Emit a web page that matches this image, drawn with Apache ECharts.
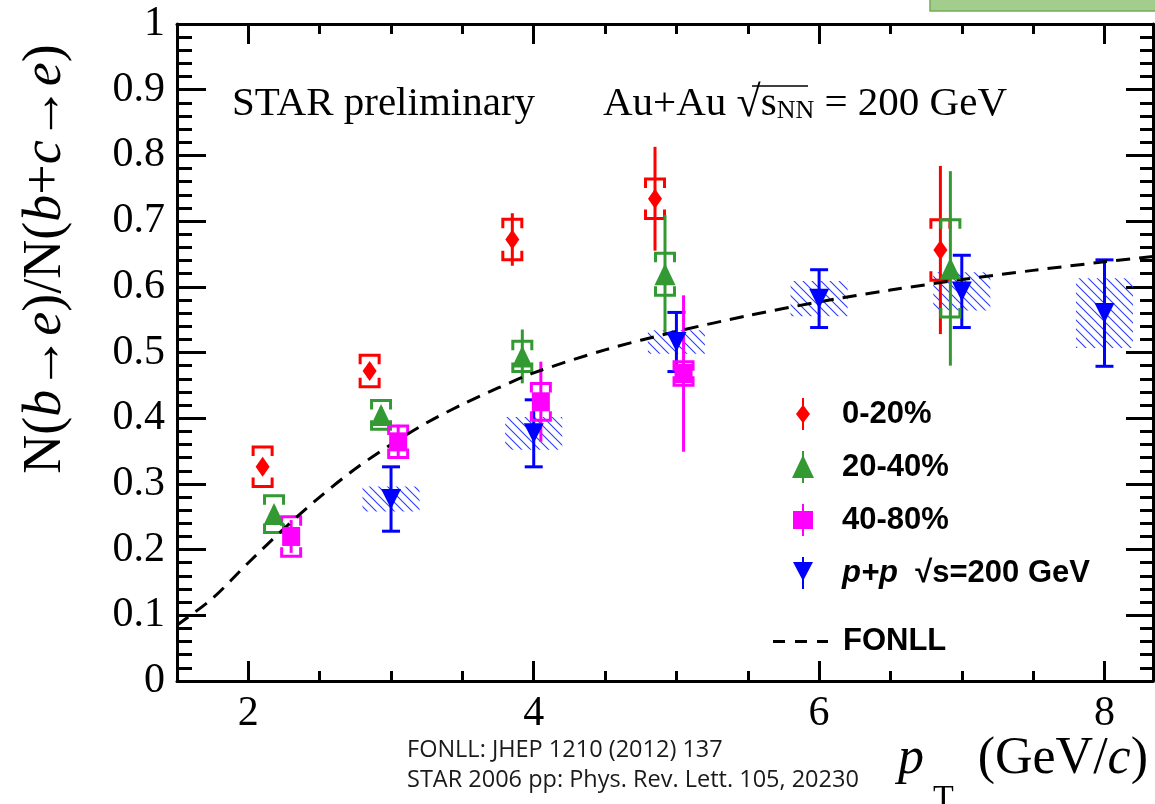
<!DOCTYPE html>
<html>
<head>
<meta charset="utf-8">
<title>N(b->e)/N(b+c->e)</title>
<script src="https://cdn.jsdelivr.net/npm/echarts@6/dist/echarts.min.js"></script>
<style>
  html, body { margin: 0; padding: 0; background: #fff; }
  #chart { width: 1155px; height: 804px; }
</style>
</head>
<body>
<div id="chart"></div>
<script>
// ---- data ----
// Au+Au 0-20%
var ptCentral    = [2.10, 2.85, 3.85, 4.85, 6.85];
var ratioCentral = [0.326, 0.472, 0.672, 0.734, 0.656];
var statCentral  = [0.012, 0.012, 0.040, 0.079, 0.128];
var sysCentral   = [0.030, 0.024, 0.031, 0.030, 0.046];

// Au+Au 20-40%
var ptMid    = [2.18, 2.93, 3.92, 4.92, 6.92];
var ratioMid = [0.254, 0.405, 0.494, 0.619, 0.628];
var statMid  = [0.012, 0.012, 0.041, 0.090, 0.148];
var sysMid   = [0.028, 0.022, 0.023, 0.032, 0.074];

// Au+Au 40-80%
var ptPeriph    = [2.30, 3.05, 4.05, 5.05];
var ratioPeriph = [0.220, 0.364, 0.425, 0.468];
var statPeriph  = [0.025, 0.026, 0.061, 0.119];
var sysPeriph   = [0.030, 0.024, 0.028, 0.018];

// p+p 200 GeV (STAR 2006)
var ptPP    = [3, 4, 5, 6, 7, 8];
var ratioPP = [0.277, 0.377, 0.516, 0.582, 0.593, 0.560];
var statPP  = [0.049, 0.051, 0.045, 0.044, 0.055, 0.081];
var sysPP   = [0.019, 0.025, 0.018, 0.027, 0.029, 0.053];
var ppBinHalf = 0.2;

// FONLL curve
var fonllPt    = [1.5, 1.75, 2.0, 2.25, 2.5, 2.75, 3.0, 3.25, 3.5, 3.75, 4.0, 4.5, 5.0, 5.5, 6.0, 6.5, 7.0, 7.5, 8.0, 8.34];
var fonllRatio = [0.085, 0.126, 0.180, 0.232, 0.280, 0.323, 0.360, 0.393, 0.421, 0.446, 0.469, 0.504, 0.532, 0.556, 0.577, 0.595, 0.611, 0.625, 0.638, 0.646];

// axis ticks
var xMajorTicks = [2, 4, 6, 8];
var xMinorTicks = [1.5, 2, 2.5, 3, 3.5, 4, 4.5, 5, 5.5, 6, 6.5, 7, 7.5, 8];

var names = ['0-20%', '20-40%', '40-80%', 'p+p √s=200 GeV', 'FONLL'];

var SERIF = "'Liberation Serif', 'Times New Roman', serif";
var SANS = "'Liberation Sans', Arial, sans-serif";
var RED = '#ff0000', GREEN = '#339933', MAGENTA = '#ff00ff', BLUE = '#0000ff';

function rows(pt, y, stat, sys) {
    return pt.map(function (p, i) { return [p, y[i], stat[i], sys[i]]; });
}

function hatchCanvas(color) {
    var c = document.createElement('canvas');
    c.width = 9; c.height = 9;
    var ctx = c.getContext('2d');
    ctx.strokeStyle = color;
    ctx.lineWidth = 1.1;
    ctx.beginPath();
    ctx.moveTo(0, 0); ctx.lineTo(9, 9);
    ctx.moveTo(-2, 7); ctx.lineTo(2, 11);
    ctx.moveTo(7, -2); ctx.lineTo(11, 2);
    ctx.stroke();
    return c;
}
var hatch = hatchCanvas('#2b3dff');

// brackets for Au+Au systematics
function bracketSeries(name, data, color) {
    return {
        name: name, type: 'custom', z: 3, data: data, encode: { x: 0, y: 1 },
        itemStyle: { color: color }, silent: true,
        renderItem: function (params, api) {
            var x = api.value(0), y = api.value(1), s = api.value(3);
            var top = api.coord([x, y + s]), bot = api.coord([x, y - s]);
            var w = 9.5, leg = 9;
            var st = { stroke: color, lineWidth: 3, fill: 'none' };
            return {
                type: 'group', children: [
                    { type: 'polyline', shape: { points: [[top[0] - w, top[1] + leg], [top[0] - w, top[1]], [top[0] + w, top[1]], [top[0] + w, top[1] + leg]] }, style: st },
                    { type: 'polyline', shape: { points: [[bot[0] - w, bot[1] - leg], [bot[0] - w, bot[1]], [bot[0] + w, bot[1]], [bot[0] + w, bot[1] - leg]] }, style: st }
                ]
            };
        }
    };
}

// vertical stat bars, optional caps
function statSeries(name, data, color, cap) {
    return {
        name: name, type: 'custom', z: 3, data: data, encode: { x: 0, y: 1 },
        itemStyle: { color: color }, silent: true,
        renderItem: function (params, api) {
            var x = api.value(0), y = api.value(1), e = api.value(2);
            var top = api.coord([x, y + e]), bot = api.coord([x, y - e]);
            var st = { stroke: color, lineWidth: 3, fill: 'none' };
            var kids = [{ type: 'line', shape: { x1: top[0], y1: top[1], x2: bot[0], y2: bot[1] }, style: st }];
            if (cap) {
                kids.push({ type: 'line', shape: { x1: top[0] - cap, y1: top[1], x2: top[0] + cap, y2: top[1] }, style: st });
                kids.push({ type: 'line', shape: { x1: bot[0] - cap, y1: bot[1], x2: bot[0] + cap, y2: bot[1] }, style: st });
            }
            return { type: 'group', children: kids };
        }
    };
}

// hatched boxes for p+p systematics
function hatchSeries(name, data, color) {
    return {
        name: name, type: 'custom', z: 2, data: data, encode: { x: 0, y: 1 },
        itemStyle: { color: color }, silent: true,
        renderItem: function (params, api) {
            var x = api.value(0), y = api.value(1), s = api.value(3);
            var p1 = api.coord([x - ppBinHalf, y + s]), p2 = api.coord([x + ppBinHalf, y - s]);
            return {
                type: 'rect',
                shape: { x: p1[0], y: p1[1], width: p2[0] - p1[0], height: p2[1] - p1[1] },
                style: { fill: { image: hatch, repeat: 'repeat' }, stroke: null }
            };
        }
    };
}

function markerSeries(name, pt, y, color, symbol, size) {
    return {
        name: name, type: 'scatter', z: 6, symbol: symbol, symbolSize: size,
        itemStyle: { color: color, opacity: 1 }, silent: true,
        data: pt.map(function (p, i) { return [p, y[i]]; })
    };
}

var dCentral = rows(ptCentral, ratioCentral, statCentral, sysCentral);
var dMid = rows(ptMid, ratioMid, statMid, sysMid);
var dPeriph = rows(ptPeriph, ratioPeriph, statPeriph, sysPeriph);
var dPP = rows(ptPP, ratioPP, statPP, sysPP);

var tickStyle = { color: '#000', width: 3 };

function xAxisDef(pos, ticks, len, withLine, withLabel) {
    return {
        type: 'value', position: pos, min: 1.5, max: 8.34,
        axisLine: { show: withLine, onZero: false, lineStyle: { color: '#000', width: 3 } },
        axisTick: { show: true, inside: true, length: len, customValues: ticks, lineStyle: tickStyle },
        axisLabel: {
            show: withLabel, customValues: xMajorTicks, margin: 12,
            fontFamily: SERIF, fontSize: 42, color: '#000'
        },
        splitLine: { show: false }
    };
}

function yAxisDef(pos, major, minor, withLabel) {
    return {
        type: 'value', position: pos, min: 0, max: 1, interval: 0.1,
        axisLine: { show: true, onZero: false, lineStyle: { color: '#000', width: 3 } },
        axisTick: { show: true, inside: true, length: major, lineStyle: tickStyle },
        minorTick: { show: true, splitNumber: 5, length: minor, lineStyle: tickStyle },
        axisLabel: { show: withLabel, margin: 12, fontFamily: SERIF, fontSize: 42, color: '#000' },
        splitLine: { show: false },
        minorSplitLine: { show: false }
    };
}

var chart = echarts.init(document.getElementById('chart'));

var option = {
    animation: false,
    backgroundColor: '#fff',
    grid: { left: 177, right: 2, top: 24, bottom: 123, containLabel: false, outerBoundsMode: 'none' },
    xAxis: [
        xAxisDef('bottom', xMinorTicks, 10, true, true),
        xAxisDef('bottom', xMajorTicks, 20, false, false),
        xAxisDef('top', xMinorTicks, 10, true, false),
        xAxisDef('top', xMajorTicks, 20, false, false)
    ],
    yAxis: [
        yAxisDef('left', 29, 15, true),
        yAxisDef('right', 27, 13, false)
    ],
    legend: [
        {
            orient: 'vertical', left: 787, top: 393,
            itemWidth: 22, itemHeight: 32, itemGap: 21,
            selectedMode: false,
            data: [
                { name: names[0], icon: 'path://M6,0H8V8L14,16L8,24V32H6V24L0,16L6,8Z' },
                { name: names[1], icon: 'path://M10,0H12V6L22,27H12V32H10V27H0L10,6Z' },
                { name: names[2], icon: 'path://M9,0H11V7H20V25H11V32H9V25H0V7H9Z' },
                { name: names[3], icon: 'path://M9,0H11V5H20L10,24L0,5H9Z M9,22H11V32H9Z' }
            ],
            formatter: function (name) {
                return name === names[3] ? '{it|p+p}  √s=200 GeV' : name;
            },
            textStyle: {
                fontFamily: SANS, fontWeight: 'bold', fontSize: 31, color: '#000',
                padding: [0, 0, 0, 23],
                rich: { it: { fontFamily: SANS, fontWeight: 'bold', fontStyle: 'italic', fontSize: 31, color: '#000' } }
            }
        },
        {
            orient: 'vertical', left: 768, top: 621,
            itemWidth: 55, itemHeight: 3,
            selectedMode: false,
            data: [{ name: names[4], icon: 'path://M0,0H12V3H0Z M22,0H34V3H22Z M44,0H55V3H44Z' }],
            itemStyle: { color: '#000', borderWidth: 0 },
            textStyle: {
                fontFamily: SANS, fontWeight: 'bold', fontSize: 31, color: '#000',
                padding: [0, 0, 0, 10]
            }
        }
    ],
    series: [
        markerSeries(names[0], ptCentral, ratioCentral, RED, 'diamond', [14, 20]),
        markerSeries(names[1], ptMid, ratioMid, GREEN, 'triangle', [21, 22]),
        markerSeries(names[2], ptPeriph, ratioPeriph, MAGENTA, 'rect', [18, 19]),
        markerSeries(names[3], ptPP, ratioPP, BLUE, 'path://M0,0L20,0L10,20Z', [20, 20]),
        {
            name: names[4], type: 'line', z: 4, smooth: 0.3, symbol: 'none', showSymbol: false,
            silent: true,
            itemStyle: { color: '#000' },
            lineStyle: { color: '#000', width: 3, type: [14, 9] },
            data: fonllPt.map(function (p, i) { return [p, fonllRatio[i]]; })
        },
        hatchSeries(names[3], dPP, BLUE),
        statSeries(names[3], dPP, BLUE, 9),
        bracketSeries(names[0], dCentral, RED),
        statSeries(names[0], dCentral, RED, 0),
        bracketSeries(names[1], dMid, GREEN),
        statSeries(names[1], dMid, GREEN, 0),
        bracketSeries(names[2], dPeriph, MAGENTA),
        statSeries(names[2], dPeriph, MAGENTA, 0)
    ],
    graphic: [
        {
            type: 'rect', z: 100,
            shape: { x: 930, y: -3, width: 230, height: 14 },
            style: { fill: '#a3cd8c', stroke: '#72ad55', lineWidth: 1.5 }
        },
        {
            type: 'text', x: 232, y: 104, z: 100,
            style: {
                text: 'STAR preliminary', fontFamily: SERIF, fontSize: 41, fill: '#000',
                textAlign: 'left', align: 'left', textVerticalAlign: 'middle', verticalAlign: 'middle'
            }
        },
        {
            type: 'text', x: 603, y: 104, z: 100,
            style: {
                text: 'Au+Au {rt|√}{s|s}{sub|NN} = 200 GeV',
                fontFamily: SERIF, fontSize: 41, fill: '#000', lineHeight: 41,
                textAlign: 'left', align: 'left', textVerticalAlign: 'middle', verticalAlign: 'middle',
                rich: {
                    rt: { fontFamily: SERIF, fontSize: 44, lineHeight: 41 },
                    s: { fontFamily: SERIF, fontSize: 41, lineHeight: 41 },
                    sub: { fontFamily: SERIF, fontSize: 26, lineHeight: 10, verticalAlign: 'bottom' }
                }
            }
        },
        {
            type: 'line', z: 100,
            shape: { x1: 752, y1: 86, x2: 808, y2: 86 },
            style: { stroke: '#000', lineWidth: 1.5 }
        },
        {
            type: 'text', x: 46, y: 259, rotation: Math.PI / 2, z: 100,
            style: {
                text: 'N({i|b}→{i|e})/N({i|b}+{i|c}→{i|e})',
                fontFamily: SERIF, fontSize: 54, fill: '#000',
                textAlign: 'center', align: 'center', textVerticalAlign: 'middle', verticalAlign: 'middle',
                rich: { i: { fontFamily: SERIF, fontStyle: 'italic', fontSize: 54 } }
            }
        },
        {
            type: 'text', x: 898, y: 759, z: 100,
            style: {
                text: 'p', fontFamily: SERIF, fontStyle: 'italic', fontSize: 52, fill: '#000',
                textAlign: 'left', align: 'left', textVerticalAlign: 'middle', verticalAlign: 'middle'
            }
        },
        {
            type: 'text', x: 933, y: 799, z: 100,
            style: {
                text: 'T', fontFamily: SERIF, fontSize: 34, fill: '#000',
                textAlign: 'left', align: 'left', textVerticalAlign: 'middle', verticalAlign: 'middle'
            }
        },
        {
            type: 'text', x: 1148, y: 759, z: 100,
            style: {
                text: '(GeV/{i|c})', fontFamily: SERIF, fontSize: 52, fill: '#000',
                textAlign: 'right', align: 'right', textVerticalAlign: 'middle', verticalAlign: 'middle',
                rich: { i: { fontFamily: SERIF, fontStyle: 'italic', fontSize: 52 } }
            }
        },
        {
            type: 'text', x: 407, y: 750, z: 100,
            style: {
                text: 'FONLL: JHEP 1210 (2012) 137', fontFamily: "'Open Sans', sans-serif", fontSize: 23.5, fill: '#1a1a1a',
                textAlign: 'left', align: 'left', textVerticalAlign: 'middle', verticalAlign: 'middle'
            }
        },
        {
            type: 'text', x: 407, y: 780, z: 100,
            style: {
                text: 'STAR 2006 pp: Phys. Rev. Lett. 105, 20230', fontFamily: "'Open Sans', sans-serif", fontSize: 23.5, fill: '#1a1a1a',
                textAlign: 'left', align: 'left', textVerticalAlign: 'middle', verticalAlign: 'middle'
            }
        }
    ]
};

option && chart.setOption(option);
</script>
</body>
</html>
